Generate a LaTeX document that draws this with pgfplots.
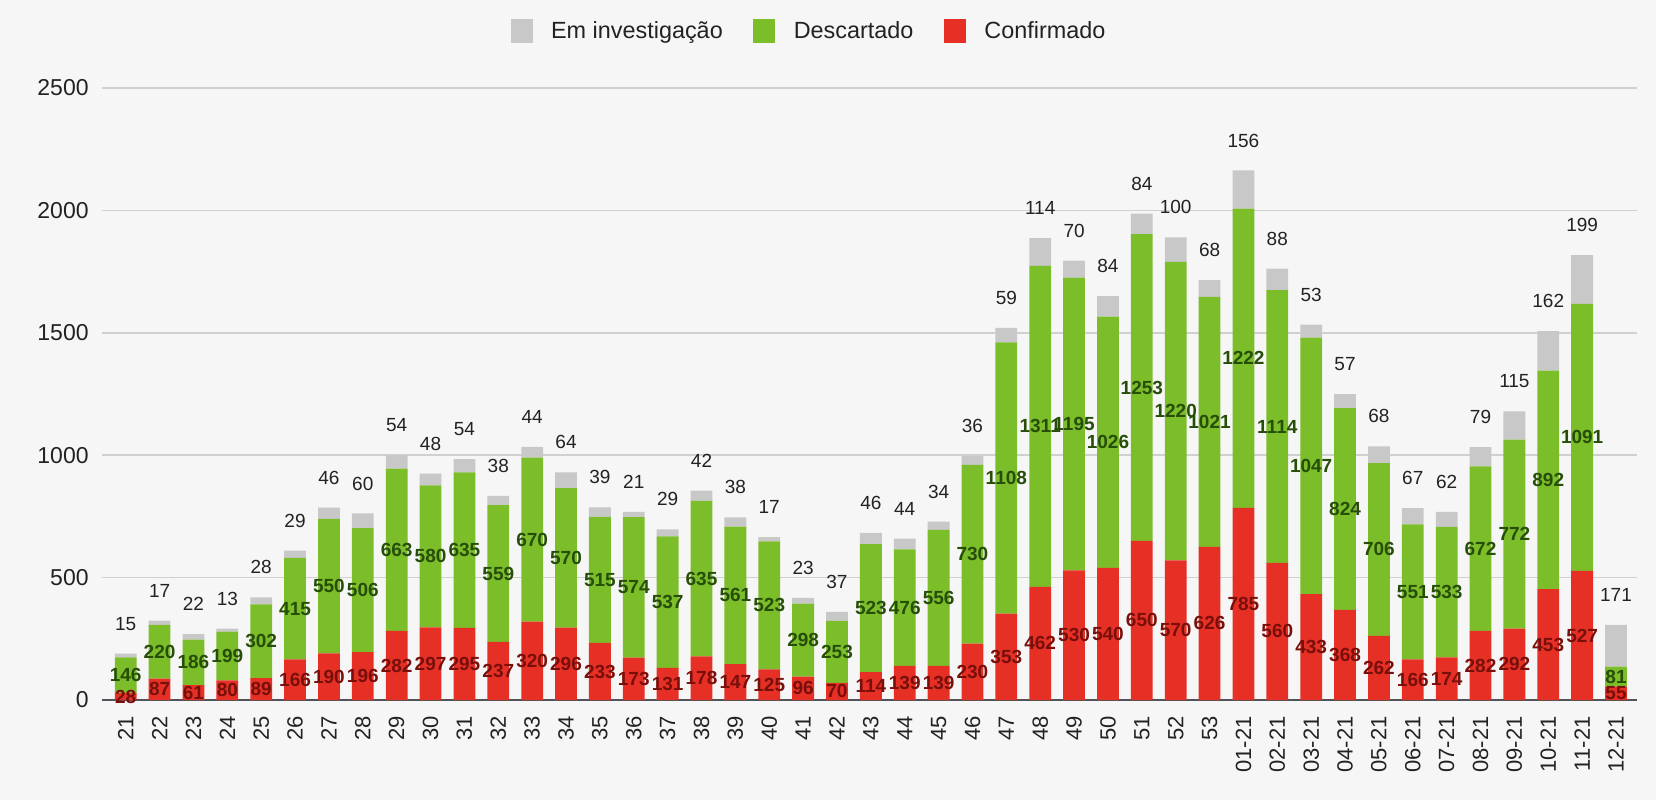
\documentclass[border=0pt]{standalone}
\usepackage{pgfplots}
\pgfplotsset{compat=1.18}
\usepackage{pgfplotstable}
\usepackage{fontspec}
\setmainfont{Liberation Sans}
\definecolor{cRed}{RGB}{230,48,38}
\definecolor{cGreen}{RGB}{124,189,42}
\definecolor{cGray}{RGB}{200,200,200}
\definecolor{bg}{RGB}{246,246,246}
\definecolor{gridc}{RGB}{208,208,208}
\definecolor{basec}{RGB}{80,84,90}
\definecolor{redtxt}{RGB}{120,15,10}
\definecolor{greentxt}{RGB}{38,78,8}
\definecolor{txt}{RGB}{34,34,34}

\pgfplotstableread{
x c d e
0 28 146 15
1 87 220 17
2 61 186 22
3 80 199 13
4 89 302 28
5 166 415 29
6 190 550 46
7 196 506 60
8 282 663 54
9 297 580 48
10 295 635 54
11 237 559 38
12 320 670 44
13 296 570 64
14 233 515 39
15 173 574 21
16 131 537 29
17 178 635 42
18 147 561 38
19 125 523 17
20 96 298 23
21 70 253 37
22 114 523 46
23 139 476 44
24 139 556 34
25 230 730 36
26 353 1108 59
27 462 1311 114
28 530 1195 70
29 540 1026 84
30 650 1253 84
31 570 1220 100
32 626 1021 68
33 785 1222 156
34 560 1114 88
35 433 1047 53
36 368 824 57
37 262 706 68
38 166 551 67
39 174 533 62
40 282 672 79
41 292 772 115
42 453 892 162
43 527 1091 199
44 55 81 171
}\data

\begin{document}
\begin{tikzpicture}
\fill[bg] (0,0) rectangle (828pt,400pt);
\begin{axis}[
  at={(51pt,50pt)}, anchor=south west,
  scale only axis, width=767.5pt, height=306pt,
  xmin=-0.7, xmax=44.62, ymin=0, ymax=2500,
  ybar stacked, bar width=10.9pt,
  axis line style={draw=none},
  major tick length=0pt,
  ymajorgrids, grid style={gridc, line width=0.8pt},
  xtick={0,...,44},
  xticklabels={21,22,23,24,25,26,27,28,29,30,31,32,33,34,35,36,37,38,39,40,41,42,43,44,45,46,47,48,49,50,51,52,53,01-21,02-21,03-21,04-21,05-21,06-21,07-21,08-21,09-21,10-21,11-21,12-21},
  xticklabel style={rotate=90, anchor=east, inner sep=0pt, font=\fontsize{11}{13}\selectfont, text=txt},
  xticklabel shift=8pt,
  ytick={0,500,1000,1500,2000,2500},
  yticklabels={0,500,1000,1500,2000,2500},
  yticklabel style={anchor=east, inner sep=0pt, font=\fontsize{11.5}{13}\selectfont, text=txt},
  yticklabel shift=6.5pt,
]
\addplot[fill=cRed, draw=none] table[x=x, y=c] {\data};
\addplot[fill=cGreen, draw=none] table[x=x, y=d] {\data};
\addplot[fill=cGray, draw=none] table[x=x, y=e] {\data};
\draw[basec, line width=1.5pt] (axis cs:-0.7,0) -- (axis cs:44.62,0);
\end{axis}
\begin{axis}[
  at={(51pt,50pt)}, anchor=south west,
  scale only axis, width=767.5pt, height=306pt,
  xmin=-0.7, xmax=44.62, ymin=0, ymax=2500,
  axis lines=none, clip=false,
  legend columns=3,
  legend image code/.code={\fill[#1, draw=none] (0pt,-6pt) rectangle (11pt,6pt);},
  legend style={at={(0.266,1.093)}, anchor=west, draw=none, fill=none,
    font=\fontsize{11.7}{13}\selectfont, text=txt, inner sep=0pt,
    nodes={inner sep=0pt},
    /tikz/every odd column/.append style={column sep=9.2pt},
    /tikz/every even column/.append style={column sep=15.3pt}},
  legend cell align=left,
]
\addlegendimage{fill=cGray, draw=none}\addlegendentry{Em investigação}
\addlegendimage{fill=cGreen, draw=none}\addlegendentry{Descartado}
\addlegendimage{fill=cRed, draw=none}\addlegendentry{Confirmado}
\addplot[draw=none, mark=none, forget plot, nodes near coords, point meta=explicit symbolic,
  nodes near coords style={anchor=center, inner sep=0pt, font=\fontsize{9.5}{11}\selectfont\bfseries, text=redtxt}]
  table[x=x, y expr=\thisrow{c}/2, meta=c] {\data};
\addplot[draw=none, mark=none, forget plot, nodes near coords, point meta=explicit symbolic,
  nodes near coords style={anchor=center, inner sep=0pt, font=\fontsize{9.5}{11}\selectfont\bfseries, text=greentxt}]
  table[x=x, y expr=\thisrow{c}+\thisrow{d}/2, meta=d] {\data};
\addplot[draw=none, mark=none, forget plot, nodes near coords, point meta=explicit symbolic,
  nodes near coords style={anchor=center, inner sep=0pt, yshift=15pt, font=\fontsize{9.5}{11}\selectfont, text=txt}]
  table[x=x, y expr=\thisrow{c}+\thisrow{d}+\thisrow{e}, meta=e] {\data};
\end{axis}
\pgfresetboundingbox
\useasboundingbox (0,0) rectangle (828pt,400pt);
\end{tikzpicture}
\end{document}
